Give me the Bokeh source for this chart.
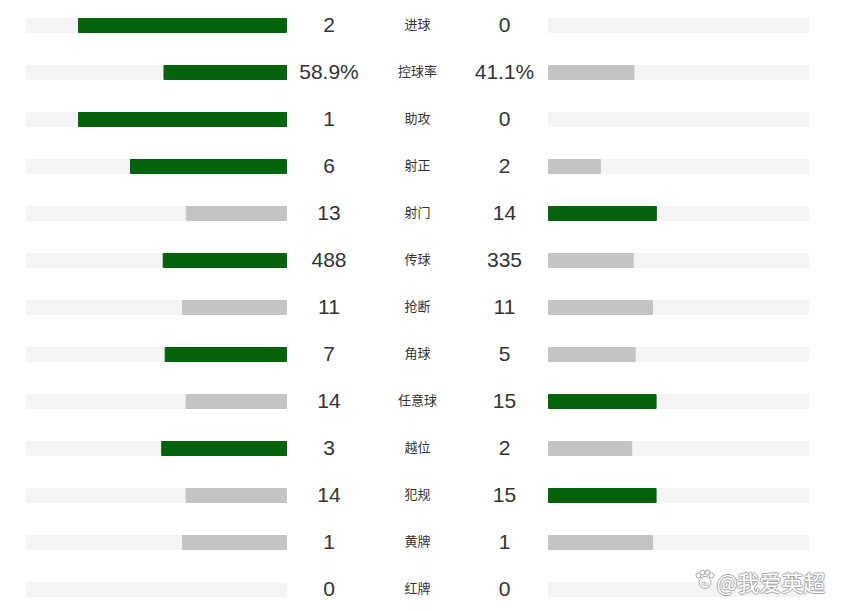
from bokeh.plotting import figure
from bokeh.models import Range1d, ColumnDataSource, Label
from bokeh.core.properties import value
from bokeh.embed import file_html
from bokeh.resources import INLINE

# ---- data ----
categories = ["进球", "控球率", "助攻", "射正", "射门", "传球", "抢断", "角球",
              "任意球", "越位", "犯规", "黄牌", "红牌"]
home_values = [2, 58.9, 1, 6, 13, 488, 11, 7, 14, 3, 14, 1, 0]
away_values = [0, 41.1, 0, 2, 14, 335, 11, 5, 15, 2, 15, 1, 0]
home_labels = ["2", "58.9%", "1", "6", "13", "488", "11", "7", "14", "3", "14", "1", "0"]
away_labels = ["0", "41.1%", "0", "2", "14", "335", "11", "5", "15", "2", "15", "1", "0"]
watermark = "@我爱英超"

# ---- style / layout ----
W, H = 830, 603
ROW_PX = 47
TOP_PX = 25
TRACK_W = 260
LEFT_END = 286
RIGHT_START = 548
BAR_SHARE = 0.8
BAR_H = 14 / ROW_PX
GREEN = "#03630a"
GRAY = "#c4c4c4"
TRACK = "#f4f4f4"
TEXT = "#333333"
NUM_FONT = value("Liberation Sans")
CJK_FONT = value("Noto Sans CJK SC")

p = figure(width=W, height=H,
           x_range=Range1d(0, W),
           y_range=Range1d((H - TOP_PX) / ROW_PX, -TOP_PX / ROW_PX),
           output_backend="svg", toolbar_location=None,
           x_axis_type=None, y_axis_type=None, min_border=0)
p.outline_line_color = None
p.grid.visible = False
p.background_fill_color = "white"
p.border_fill_color = "white"

n = len(categories)
rows = list(range(n))

# tracks
p.hbar(y=rows, left=[LEFT_END - TRACK_W] * n, right=[LEFT_END] * n,
       height=BAR_H, color=TRACK)
p.hbar(y=rows, left=[RIGHT_START] * n, right=[RIGHT_START + TRACK_W] * n,
       height=BAR_H, color=TRACK)

# bars
hl, hr, hc, al, ar, ac, by_h, by_a = [], [], [], [], [], [], [], []
for i, (h, a) in enumerate(zip(home_values, away_values)):
    tot = h + a
    if tot <= 0:
        continue
    hw = h / tot * BAR_SHARE * TRACK_W
    aw = a / tot * BAR_SHARE * TRACK_W
    if h > 0:
        by_h.append(i); hl.append(LEFT_END - hw); hr.append(LEFT_END)
        hc.append(GREEN if h > a else GRAY)
    if a > 0:
        by_a.append(i); al.append(RIGHT_START); ar.append(RIGHT_START + aw)
        ac.append(GREEN if a > h else GRAY)

p.hbar(source=ColumnDataSource(dict(y=by_h, l=hl, r=hr, c=hc)),
       y="y", left="l", right="r", height=BAR_H, color="c")
p.hbar(source=ColumnDataSource(dict(y=by_a, l=al, r=ar, c=ac)),
       y="y", left="l", right="r", height=BAR_H, color="c")

# texts
p.text(x=[328.5] * n, y=rows, text=home_labels, text_align="center",
       text_baseline="middle", text_font=NUM_FONT, text_font_size="21px",
       text_color=TEXT, y_offset=-1)
p.text(x=[504] * n, y=rows, text=away_labels, text_align="center",
       text_baseline="middle", text_font=NUM_FONT, text_font_size="21px",
       text_color=TEXT, y_offset=-1)
p.text(x=[417] * n, y=rows, text=categories, text_align="center",
       text_baseline="middle", text_font=CJK_FONT, text_font_size="13px",
       text_color=TEXT, y_offset=-2)

# watermark (white text with grey outline) + paw icon
wx, wy = 716, H - 580
for dx, dy in [(-1, 0), (1, 0), (0, -1), (0, 1)]:
    p.add_layout(Label(x=wx + dx, y=wy + dy, x_units="screen", y_units="screen",
                       text=watermark, text_font="Noto Sans CJK SC",
                       text_font_size="22px", text_color="#a8a8a8",
                       text_baseline="middle", text_align="left"))
p.add_layout(Label(x=wx, y=wy, x_units="screen", y_units="screen",
                   text=watermark, text_font="Noto Sans CJK SC",
                   text_font_size="22px", text_color="white",
                   text_baseline="middle", text_align="left"))
icon_x = [698, 702, 707, 711]
icon_y = [11.70, 11.64, 11.64, 11.70]
p.scatter(x=icon_x, y=icon_y, size=5, fill_color="white", line_color="#a8a8a8")
p.scatter(x=[704.5], y=[11.85], size=12, fill_color="white", line_color="#a8a8a8")
p.text(x=[704.5], y=[11.87], text=["du"], text_align="center", text_baseline="middle",
       text_font=NUM_FONT, text_font_size="7px", text_color="#a8a8a8")

open("out.html", "w").write(file_html(p, INLINE))
